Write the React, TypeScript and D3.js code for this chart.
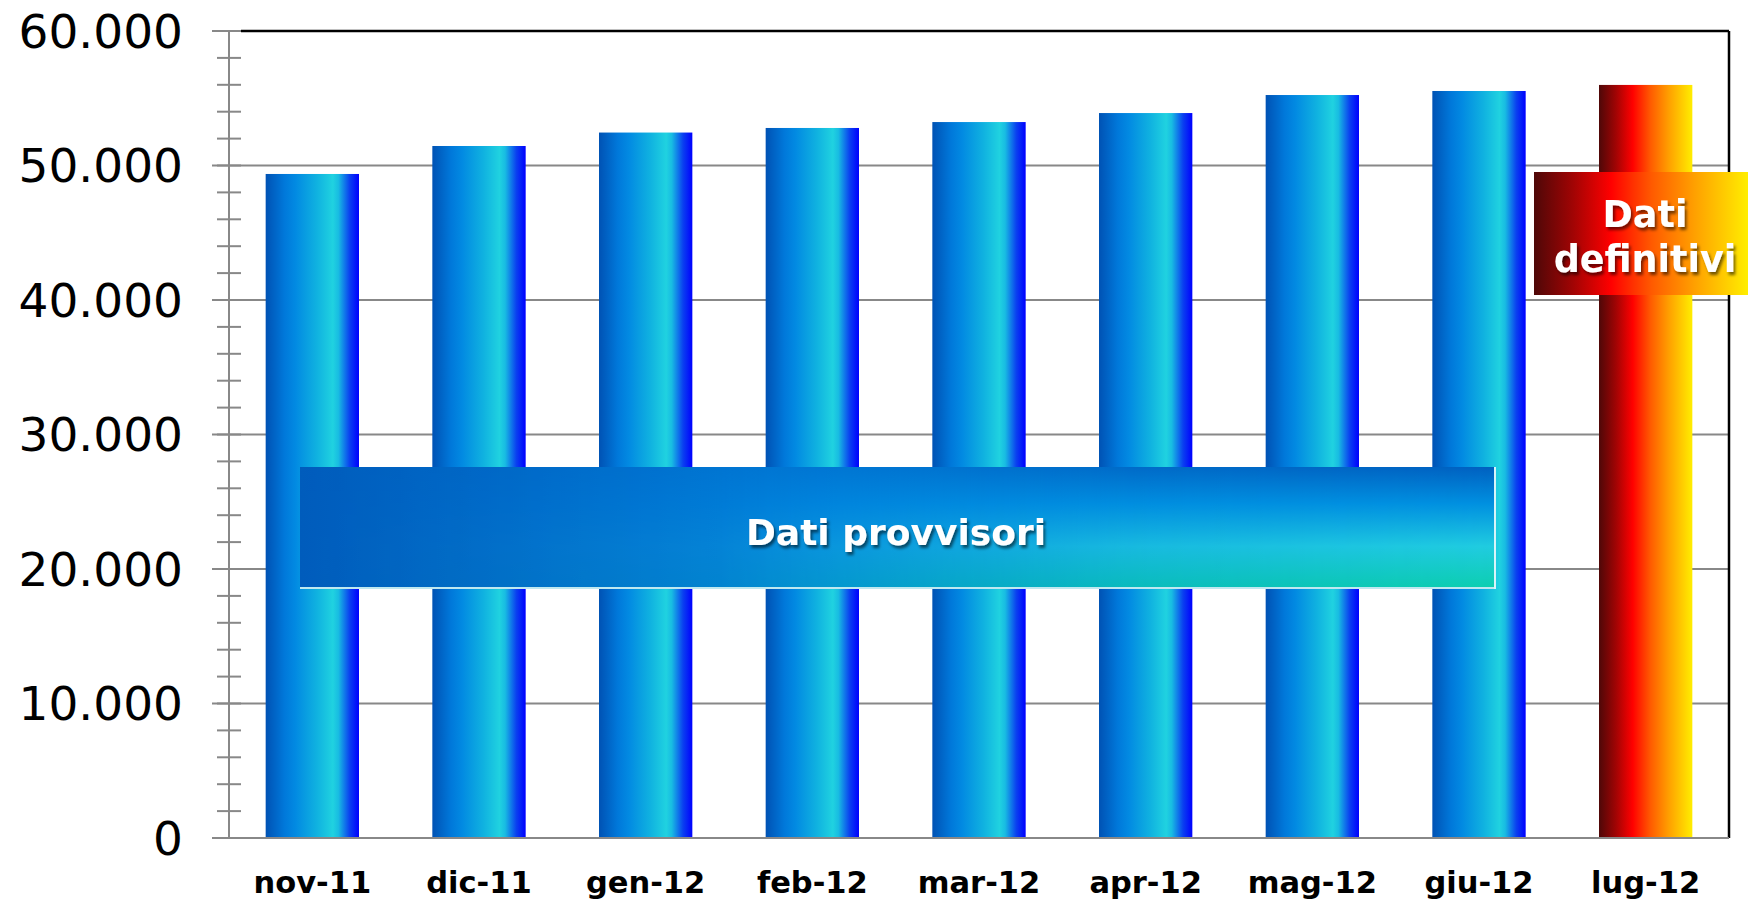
import React from "react";
import * as d3 from "d3";

const categories = ["nov-11", "dic-11", "gen-12", "feb-12", "mar-12", "apr-12", "mag-12", "giu-12", "lug-12"];
const values = [49370, 51450, 52450, 52790, 53230, 53900, 55240, 55540, 55990];
const definitiveFlags = [false, false, false, false, false, false, false, false, true];
const yTicks = [0, 10000, 20000, 30000, 40000, 50000, 60000];
const yMinorTicks = d3.range(0, 60001, 2000);

const W = 1748;
const H = 907;
const left = 229;
const right = 1729;
const top = 31;
const bottom = 838;

export default function App() {
  const x = d3.scaleBand<string>().domain(categories).range([left, right]).paddingInner(0.44).paddingOuter(0.22);
  const y = d3.scaleLinear().domain([0, 60000]).range([bottom, top]);
  const fmt = (v: number) => (v === 0 ? "0" : d3.format(",")(v).replace(/,/g, "."));

  return (
    <svg width={W} height={H} style={{ position: "absolute", left: 0, top: 0, background: "#fff" }}>
      <defs>
        <linearGradient id="blueBar" x1="0" x2="1" y1="0" y2="0">
          <stop offset="0" stopColor="#0052b4" />
          <stop offset="0.2" stopColor="#0078da" />
          <stop offset="0.32" stopColor="#028ae2" />
          <stop offset="0.55" stopColor="#10b2e0" />
          <stop offset="0.72" stopColor="#20d2e0" />
          <stop offset="0.78" stopColor="#18bce2" />
          <stop offset="0.9" stopColor="#0a40f0" />
          <stop offset="1" stopColor="#0000ff" />
        </linearGradient>
        <linearGradient id="redBar" x1="0" x2="1" y1="0" y2="0">
          <stop offset="0" stopColor="#4e0808" />
          <stop offset="0.18" stopColor="#a00404" />
          <stop offset="0.36" stopColor="#ff0000" />
          <stop offset="0.55" stopColor="#ff5a00" />
          <stop offset="0.75" stopColor="#ffa000" />
          <stop offset="1" stopColor="#ffee00" />
        </linearGradient>
        <linearGradient id="provBase" x1="0" x2="1" y1="0" y2="0">
          <stop offset="0" stopColor="#005cbc" />
          <stop offset="0.45" stopColor="#0080dc" />
          <stop offset="1" stopColor="#0090e0" />
        </linearGradient>
        <linearGradient id="provOver" x1="0" x2="0" y1="0" y2="1">
          <stop offset="0" stopColor="#0060c0" />
          <stop offset="0.3" stopColor="#0090e0" />
          <stop offset="0.65" stopColor="#20cce0" />
          <stop offset="1" stopColor="#0ccfae" />
        </linearGradient>
        <linearGradient id="provMaskGrad" x1="0" x2="1" y1="0" y2="0">
          <stop offset="0" stopColor="#000" />
          <stop offset="0.35" stopColor="#222" />
          <stop offset="0.7" stopColor="#bbb" />
          <stop offset="1" stopColor="#fff" />
        </linearGradient>
        <mask id="provMask" maskContentUnits="objectBoundingBox">
          <rect x="0" y="0" width="1" height="1" fill="url(#provMaskGrad)" />
        </mask>
        <filter id="shadow" x="-10%" y="-20%" width="130%" height="150%">
          <feDropShadow dx="2" dy="3" stdDeviation="1.5" floodColor="#000" floodOpacity="0.55" />
        </filter>
      </defs>

      {yTicks.map((t) => (
        <line key={"g" + t} x1={212} x2={right} y1={y(t)} y2={y(t)} stroke="#888" strokeWidth={2} />
      ))}
      {yMinorTicks.map((t) => (
        <line key={"m" + t} x1={217} x2={241} y1={y(t)} y2={y(t)} stroke="#888" strokeWidth={2} />
      ))}
      <line x1={241} x2={right} y1={top} y2={top} stroke="#000" strokeWidth={2.5} />
      <line x1={right} x2={right} y1={top} y2={bottom} stroke="#000" strokeWidth={2.5} />
      <line x1={left} x2={left} y1={top} y2={bottom} stroke="#888" strokeWidth={2} />

      {categories.map((c, i) => (
        <rect
          key={c}
          x={x(c)}
          y={y(values[i])}
          width={x.bandwidth()}
          height={y(0) - y(values[i])}
          fill={definitiveFlags[i] ? "url(#redBar)" : "url(#blueBar)"}
        />
      ))}
      <line x1={212} x2={right} y1={bottom} y2={bottom} stroke="#888" strokeWidth={2} />

      {yTicks.map((t) => (
        <text
          key={"l" + t}
          x={183}
          y={y(t)}
          dy="0.36em"
          textAnchor="end"
          fontFamily="DejaVu Sans"
          fontSize={47}
          fill="#000"
        >
          {fmt(t)}
        </text>
      ))}
      {categories.map((c) => (
        <text
          key={"x" + c}
          x={(x(c) as number) + x.bandwidth() / 2}
          y={893}
          textAnchor="middle"
          fontFamily="DejaVu Sans"
          fontWeight="bold"
          fontSize={30.5}
          fill="#000"
        >
          {c}
        </text>
      ))}

      <g>
        <rect x={300} y={467} width={1196} height={122} fill="url(#provBase)" />
        <rect x={300} y={467} width={1196} height={122} fill="url(#provOver)" mask="url(#provMask)" />
        <line x1={300} x2={1496} y1={588} y2={588} stroke="#bfe8f0" strokeWidth={2} />
        <line x1={1495} x2={1495} y1={467} y2={589} stroke="#d8f4f8" strokeWidth={2} />
        <text
          x={896}
          y={545}
          textAnchor="middle"
          fontFamily="DejaVu Sans"
          fontWeight="bold"
          fontSize={36}
          fill="#fff"
          filter="url(#shadow)"
        >
          Dati provvisori
        </text>
      </g>

      <g>
        <rect x={1534} y={172} width={214} height={123} fill="url(#redBar)" />
        <text
          x={1646}
          textAnchor="middle"
          fontFamily="DejaVu Sans"
          fontWeight="bold"
          fontSize={36.5}
          fill="#fff"
          filter="url(#shadow)"
        >
          <tspan x={1645} y={227}>Dati</tspan>
          <tspan x={1645} y={272}>definitivi</tspan>
        </text>
      </g>
    </svg>
  );
}
